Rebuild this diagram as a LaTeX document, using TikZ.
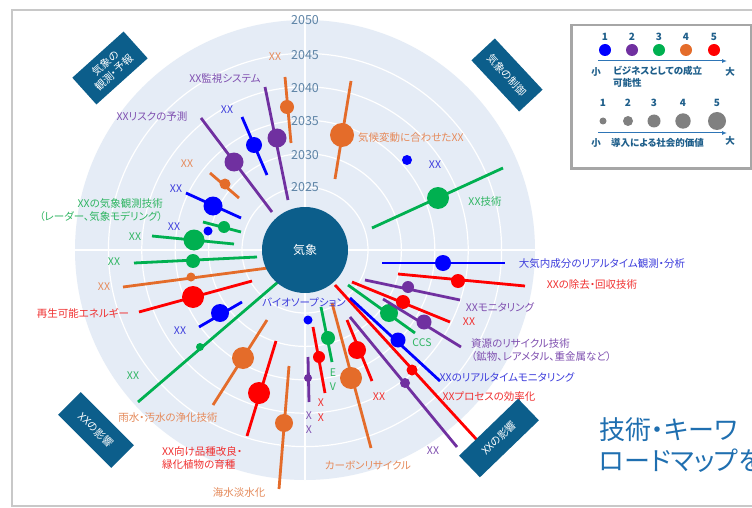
\documentclass[tikz,border=0pt]{standalone}
\usepackage{fontspec}
\setmainfont{Noto Sans CJK JP}[RawFeature={+palt}]
\usetikzlibrary{arrows.meta}
\definecolor{cB}{HTML}{0000FF}
\definecolor{cP}{HTML}{7030A0}
\definecolor{cG}{HTML}{00B050}
\definecolor{cO}{HTML}{E46C2A}
\definecolor{cR}{HTML}{FF0000}
\definecolor{lB}{HTML}{3C3CDC}
\definecolor{lP}{HTML}{7F4FB0}
\definecolor{lG}{HTML}{2FB562}
\definecolor{lO}{HTML}{E58A5A}
\definecolor{lR}{HTML}{F03030}
\definecolor{catbg}{HTML}{0C5E8B}
\definecolor{polarbg}{HTML}{E5ECF6}
\definecolor{yearc}{HTML}{5E84A6}
\definecolor{legc}{HTML}{1F5F8B}
\definecolor{arrc}{HTML}{2E75B6}
\definecolor{bigc}{HTML}{1F6FB0}
\definecolor{framec}{HTML}{C8C8C8}
\definecolor{legframe}{HTML}{A6A6A6}
\definecolor{dotgray}{HTML}{808080}
\newcommand\pitem[5]{%
  \draw[dataline,#1] (#2) -- (#3);
  \fill[#1] (#4) circle[radius=#5pt];}
\begin{document}
\begin{tikzpicture}[x=1pt,y=-1pt,
  dataline/.style={line width=2.8pt},
  lbl/.style={inner sep=0pt,font=\fontsize{10.5}{12.5}\selectfont},
  year/.style={inner sep=0pt,text=yearc,font=\fontsize{12.5}{14}\selectfont},
  catbox/.style={fill=catbg,text=white,inner sep=0pt,align=center,font=\fontsize{10.5}{12.5}\selectfont},
  legnum/.style={inner sep=0pt,text=legc,font=\bfseries\fontsize{10}{12}\selectfont},
  legtxt/.style={inner sep=0pt,text=legc,font=\bfseries\fontsize{9.5}{12.5}\selectfont},
  legarrow/.style={draw=arrc,line width=1pt,-{Latex[length=5pt,width=4pt]}},
  bigtxt/.style={inner sep=0pt,anchor=west,text=bigc,font=\fontsize{26}{30}\selectfont}]
\clip (0,0) rectangle (752,508);
\fill[white] (0,0) rectangle (752,508);
\draw[framec,line width=2.5pt] (12,10) rectangle (775,506);
% polar background
\coordinate (O) at (305,250);
\fill[polarbg] (O) circle[radius=230pt];
\foreach \r in {63,96.4,129.8,163.2,196.6}
  \draw[white,line width=1.2pt] (O) circle[radius=\r pt];
\draw[white,line width=2pt] (305,20) -- (305,480);
\draw[white,line width=2pt] (75,250) -- (535,250);
% year labels
\node[year] (y50) at (305,20) {2050};
\node[year] (y45) at (305,55) {2045};
\node[year] (y40) at (305,88) {2040};
\node[year] (y35) at (305,121) {2035};
\node[year] (y30) at (305,155) {2030};
\node[year] (y25) at (305,187) {2025};
% data items
\pitem{cO}{285,77}{291,143}{287,107}{7}
\pitem{cP}{265,87}{288,200}{277,138}{9.5}
\pitem{cB}{242,117}{267,175}{254,145}{8}
\pitem{cP}{201,118}{272,212}{234,162}{9.5}
\pitem{cO}{210,173}{239,198}{225,184}{5.5}
\pitem{cB}{186,193}{241,218}{213,206}{9.5}
\pitem{cG}{203,222}{241,232}{224,227}{6}
\fill[cB] (208,231) circle[radius=4.5pt];
\pitem{cG}{152,236}{234,244}{194,240}{10.5}
\pitem{cG}{134,263}{257,257}{193,261}{7}
\pitem{cO}{123,287}{268,268}{191,277}{4.5}
\pitem{cR}{139,312}{252,281}{193,297}{11}
\pitem{cB}{199,327}{242,302}{220,313}{9}
\pitem{cG}{138,402}{278,282}{200,347}{4}
\pitem{cO}{213,405}{267,320}{243,358}{11}
\pitem{cR}{247,436}{276,341}{259,393}{11}
\pitem{cO}{279,489}{289,366}{284,423}{9}
\pitem{cP}{308,357}{309,402}{308,378}{4}
\pitem{cR}{313,327}{325,393}{319,357}{6}
\fill[cB] (308,320) circle[radius=4.5pt];
\pitem{cG}{321,307}{332,362}{328,338}{7}
\pitem{cO}{332,303}{371,448}{351,378}{11}
\pitem{cR}{347,320}{372,381}{357,350}{9}
\pitem{cP}{350,317}{457,447}{405,383}{5}
\pitem{cR}{335,285}{477,440}{412,370}{5.5}
\pitem{cB}{350,298}{440,381}{398,340}{7.5}
\pitem{cG}{348,285}{415,333}{389,313}{9}
\pitem{cR}{352,282}{450,322}{403,302}{7}
\pitem{cP}{383,299}{461,347}{424,322}{7.5}
\pitem{cP}{365,280}{460,300}{408,287}{6}
\pitem{cR}{398,274}{525,286}{458,281}{7}
\pitem{cB}{382,263}{505,263}{443,263}{8}
\pitem{cG}{372,228}{503,168}{438,198}{11}
\fill[cB] (407,160) circle[radius=5pt];
\pitem{cO}{351,81}{335,179}{342,135}{12}
% centre
\node[circle,fill=catbg,minimum size=86pt,inner sep=0pt,text=white,font=\fontsize{12}{14}\selectfont] (ctr) at (O) {気象};
% labels
\node[lbl,text=lO] (t1) at (275,57) {XX};
\node[lbl,text=lP] (t2) at (225,79) {XX監視システム};
\node[lbl,text=lB] (t3) at (227,110) {XX};
\node[lbl,text=lP] (t4) at (152,117) {XXリスクの予測};
\node[lbl,text=lO] (t5) at (187,164) {XX};
\node[lbl,text=lB] (t6) at (176,189) {XX};
\node[lbl,text=lG,align=right,anchor=east] (t7) at (163,210) {XXの気象観測技術\\（レーダー、気象モデリング）};
\node[lbl,text=lB] (t8) at (174,227) {XX};
\node[lbl,text=lG] (t9) at (135,237) {XX};
\node[lbl,text=lG] (t10) at (114,262) {XX};
\node[lbl,text=lO] (t11) at (104,287) {XX};
\node[lbl,text=lR] (t12) at (83,313) {再生可能エネルギー};
\node[lbl,text=lB] (t13) at (180,331) {XX};
\node[lbl,text=lG] (t14) at (133,376) {XX};
\node[lbl,text=lO] (t15) at (168,418) {雨水・汚水の浄化技術};
\node[lbl,text=lR,align=left,anchor=west] (t16) at (162,458) {XX向け品種改良・\\緑化植物の育種};
\node[lbl,text=lO] (t17) at (239,493) {海水淡水化};
\node[lbl,text=lP] (t18a) at (309,416) {X};
\node[lbl,text=lP] (t18b) at (309,430) {X};
\node[lbl,text=lR] (t19a) at (321,403) {X};
\node[lbl,text=lR] (t19b) at (321,418) {X};
\node[lbl,text=lG] (t20a) at (333,373) {E};
\node[lbl,text=lG] (t20b) at (333,387) {V};
\node[lbl,text=lO] (t21) at (368,465) {カーボンリサイクル};
\node[lbl,text=lB] (t22) at (304,302) {バイオソープション};
\node[lbl,text=lR] (t23) at (379,397) {XX};
\node[lbl,text=lP] (t24) at (433,451) {XX};
\node[lbl,text=lR] (t25) at (489,397) {XXプロセスの効率化};
\node[lbl,text=lB] (t26) at (507,377) {XXのリアルタイムモニタリング};
\node[lbl,text=lG] (t27) at (422,343) {CCS};
\node[lbl,text=lP,align=left,anchor=west] (t28) at (471,350) {資源のリサイクル技術\\（鉱物、レアメタル、重金属など）};
\node[lbl,text=lR] (t29) at (469,322) {XX};
\node[lbl,text=lP] (t30) at (500,307) {XXモニタリング};
\node[lbl,text=lR] (t31) at (592,285) {XXの除去・回収技術};
\node[lbl,text=lB] (t32) at (602,264) {大気内成分のリアルタイム観測・分析};
\node[lbl,text=lG] (t33) at (485,202) {XX技術};
\node[lbl,text=lB] (t34) at (435,165) {XX};
\node[lbl,text=lO,anchor=west] (t35) at (358,138) {気候変動に合わせたXX};
% category boxes
\node[catbox,minimum width=69pt,minimum height=36pt,rotate=42] (k1) at (110,68) {気象の\\観測・予報};
\node[catbox,minimum width=70pt,minimum height=32pt,rotate=-47] (k2) at (507,75) {気象の制御};
\node[catbox,minimum width=75pt,minimum height=32pt,rotate=-45] (k3) at (96,430) {XXの影響};
\node[catbox,minimum width=82pt,minimum height=30pt,rotate=44] (k4) at (499,438) {XXの影響};
% legend
\node[draw=legframe,line width=2.5pt,fill=white,minimum width=180pt,minimum height=143pt,anchor=north west,inner sep=0pt] (leg) at (570,24) {};
\foreach \x/\c/\n in {605/cB/1,632/cP/2,659/cG/3,686/cO/4,714/cR/5}{
  \node[legnum] (na\n) at (\x,37) {\n};
  \fill[\c] (\x,50) circle[radius=6pt];
}
\coordinate (a1s) at (598,61);
\coordinate (a1e) at (727,61);
\draw[legarrow] (a1s) -- (a1e);
\node[legtxt] (s1) at (596,72) {小};
\node[legtxt,align=left,anchor=north west] (b1) at (613,66) {ビジネスとしての成立\\可能性};
\node[legtxt] (l1) at (730,72) {大};
\foreach \x/\rr/\n in {603/3.5/1,628/5/2,654/6.5/3,683/7.7/4,717/9/5}{
  \node[legnum] (nb\n) at (\x,103) {\n};
  \fill[dotgray] (\x,121) circle[radius=\rr pt];
}
\coordinate (a2s) at (598,133);
\coordinate (a2e) at (727,133);
\draw[legarrow] (a2s) -- (a2e);
\node[legtxt] (s2) at (596,143) {小};
\node[legtxt,anchor=west] (b2) at (611,143) {導入による社会的価値};
\node[legtxt] (l2) at (730,141) {大};
% big text
\node[bigtxt] (bt1) at (599,430) {技術・キーワ};
\node[bigtxt] (bt2) at (599,461) {ロードマップを};
\end{tikzpicture}
\end{document}
